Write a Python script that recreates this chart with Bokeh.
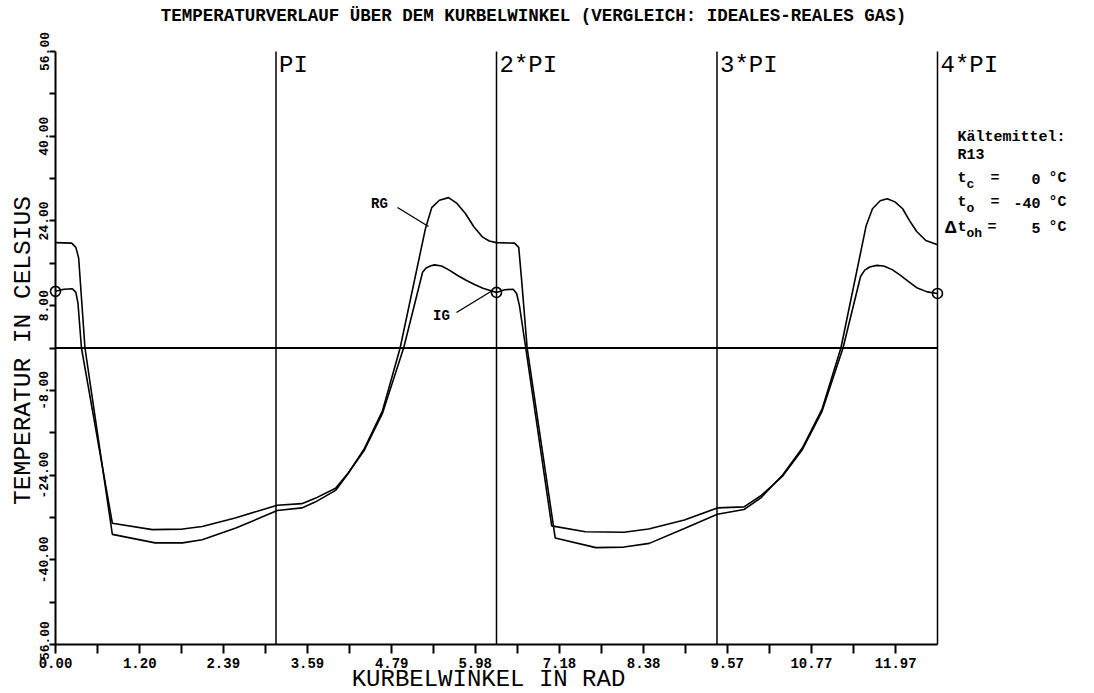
import numpy as np
from bokeh.plotting import figure
from bokeh.models import Label, FixedTicker, Range1d, PrintfTickFormatter, LinearAxis
from bokeh.embed import file_html
from bokeh.resources import INLINE

# ---------------- data ----------------
# crank angle in rad, temperature in deg C
rg_x = [0.00, 0.23, 0.29, 0.33, 0.42, 0.81, 1.42, 1.81, 2.09, 2.57, 3.16, 3.51, 3.70, 3.99,
        4.17, 4.40, 4.66, 4.91, 5.27, 5.36, 5.47, 5.60, 5.72, 5.84, 5.96, 6.08, 6.18, 6.28,
        6.54, 6.60, 6.64, 6.72, 7.12, 7.70, 8.10, 8.46, 8.96, 9.43, 9.81, 10.05, 10.36, 10.64,
        10.92, 11.19, 11.55, 11.64, 11.75, 11.85, 11.96, 12.07, 12.17, 12.27, 12.40, 12.566]
rg_y = [19.9, 19.8, 19.0, 17.0, 0.0, -35.2, -36.8, -36.8, -36.2, -34.0, -30.7, -30.2, -29.1, -26.9,
        -23.7, -19.0, -11.8, 0.0, 22.5, 26.5, 27.9, 28.4, 27.3, 25.4, 22.9, 21.0, 20.2, 19.9,
        19.8, 19.0, 13.0, 0.0, -35.9, -37.7, -37.6, -36.9, -34.1, -31.4, -30.5, -28.3, -24.0, -18.9,
        -11.6, 0.0, 23.1, 26.3, 27.8, 28.2, 27.6, 26.3, 24.0, 22.0, 20.3, 19.5]

ig_x = [0.00, 0.12, 0.24, 0.29, 0.32, 0.37, 0.81, 1.38, 1.81, 2.09, 2.56, 3.16, 3.51, 3.70,
        3.99, 4.17, 4.40, 4.66, 4.96, 5.23, 5.28, 5.34, 5.40, 5.50, 5.61, 5.73, 5.85, 5.97,
        6.09, 6.283, 6.40, 6.52, 6.57, 6.61, 6.70, 7.07, 7.55, 8.10, 8.45, 8.96, 9.43, 9.81,
        10.05, 10.36, 10.64, 10.92, 11.22, 11.47, 11.53, 11.60, 11.70, 11.80, 11.92, 12.03,
        12.15, 12.27, 12.42, 12.566]
ig_y = [10.7, 11.1, 11.2, 10.5, 8.5, 0.0, -33.1, -34.3, -34.2, -33.7, -32.1, -29.7, -29.4, -28.4,
        -26.5, -23.6, -19.3, -12.3, 0.0, 14.3, 15.1, 15.5, 15.7, 15.5, 14.7, 13.7, 12.8, 12.0,
        11.3, 10.5, 11.0, 11.1, 10.3, 8.0, 0.0, -33.6, -34.7, -34.8, -34.2, -32.5, -30.2, -30.0,
        -27.9, -24.2, -19.2, -12.0, 0.0, 13.5, 14.7, 15.3, 15.6, 15.5, 14.8, 13.8,
        12.6, 11.4, 10.6, 10.3]

x_ticks = [0.00, 1.20, 2.39, 3.59, 4.79, 5.98, 7.18, 8.38, 9.57, 10.77, 11.97]
x_minor = [0.60, 1.795, 2.99, 4.19, 5.385, 6.58, 7.775, 8.975, 10.17, 11.37]
y_ticks = [56, 40, 24, 8, -8, -24, -40, -56]
y_minor = [48, 32, 16, 0, -16, -32, -48]

pi_lines = [np.pi, 2 * np.pi, 3 * np.pi, 4 * np.pi]
pi_labels = ["PI", "2*PI", "3*PI", "4*PI"]

title_text = "TEMPERATURVERLAUF ÜBER DEM KURBELWINKEL (VERGLEICH: IDEALES-REALES GAS)"
xlabel_text = "KURBELWINKEL IN RAD"
ylabel_text = "TEMPERATUR IN CELSIUS"

# ---------------- layout (pixel -> data) ----------------
W, H = 1094, 693
FL, FT, FW, FH = 55, 51, 882, 593          # where the axes box sits on the page
X0, X1, Y0, Y1 = 0.0, 4 * np.pi, -56.0, 56.0


def dx(px):
    return X0 + (px - FL) * (X1 - X0) / FW


def dy(py):
    return Y1 - (py - FT) * (Y1 - Y0) / FH


p = figure(width=W, height=H, x_range=Range1d(dx(0), dx(W)), y_range=Range1d(dy(H), dy(0)),
           min_border=0, x_axis_location=None, y_axis_location=None,
           output_backend="svg", toolbar_location=None)
p.background_fill_color = "white"
p.border_fill_color = "white"
p.outline_line_color = None
p.grid.visible = False

MONO = "Liberation Mono"
BLACK = "black"

xaxis = LinearAxis(fixed_location=Y0, bounds=(X0, X1))
yaxis = LinearAxis(fixed_location=X0, bounds=(Y0, Y1))
p.add_layout(xaxis, "below")
p.add_layout(yaxis, "left")

for ax in (xaxis, yaxis):
    ax.axis_line_width = 2
    ax.axis_line_color = BLACK
    ax.major_tick_line_color = BLACK
    ax.minor_tick_line_color = BLACK
    ax.major_tick_line_width = 2
    ax.minor_tick_line_width = 2
    ax.major_tick_in = 0
    ax.minor_tick_in = 0
    ax.major_label_text_font = MONO
    ax.major_label_text_font_style = "bold"
    ax.major_label_text_color = BLACK
    ax.formatter = PrintfTickFormatter(format="%.2f")

xaxis.ticker = FixedTicker(ticks=x_ticks, minor_ticks=x_minor)
xaxis.major_tick_out = 9
xaxis.minor_tick_out = 9
xaxis.major_label_standoff = 4
xaxis.major_label_text_font_size = "14px"

yaxis.ticker = FixedTicker(ticks=y_ticks, minor_ticks=y_minor)
yaxis.major_tick_out = 6
yaxis.minor_tick_out = 6
yaxis.major_label_standoff = 1
yaxis.major_label_orientation = "vertical"
yaxis.major_label_text_font_size = "13px"

# reference lines: zero line and multiples of pi
p.segment(x0=[X0], y0=[0], x1=[X1], y1=[0], line_color=BLACK, line_width=2.2)
p.segment(x0=pi_lines, y0=[Y0] * 4, x1=pi_lines, y1=[Y1] * 4, line_color=BLACK, line_width=1.5)
for xv, t in zip(pi_lines, pi_labels):
    p.add_layout(Label(x=xv, y=Y1, x_offset=3, text=t, text_font=MONO, text_font_size="24px",
                       text_align="left", text_baseline="top", text_color=BLACK))

# curves
p.line(rg_x, rg_y, line_color=BLACK, line_width=1.6)
p.line(ig_x, ig_y, line_color=BLACK, line_width=1.6)

mk = [i for i, xv in enumerate(ig_x) if min(abs(xv - k * 2 * np.pi) for k in range(3)) < 1e-2]
p.scatter([ig_x[i] for i in mk], [ig_y[i] for i in mk], marker="circle", size=10,
          fill_color=None, line_color=BLACK, line_width=1.6)

# curve annotations with leader lines
p.line([dx(397), dx(428)], [dy(207), dy(226)], line_color=BLACK, line_width=1.4)
p.add_layout(Label(x=dx(379), y=dy(203), text="RG", text_font=MONO, text_font_style="bold",
                   text_font_size="14px", text_align="center", text_baseline="middle",
                   text_color=BLACK))
p.line([dx(456), dx(492)], [dy(312), dy(290)], line_color=BLACK, line_width=1.4)
p.add_layout(Label(x=dx(441), y=dy(315), text="IG", text_font=MONO, text_font_style="bold",
                   text_font_size="14px", text_align="center", text_baseline="middle",
                   text_color=BLACK))

# titles
p.add_layout(Label(x=dx(533), y=dy(15), text=title_text, text_font=MONO, text_font_style="bold",
                   text_font_size="17.5px", text_align="center", text_baseline="middle",
                   text_color=BLACK))
p.add_layout(Label(x=dx(488), y=dy(679), text=xlabel_text, text_font=MONO, text_font_size="24px",
                   text_align="center", text_baseline="middle", text_color=BLACK))
p.add_layout(Label(x=dx(23), y=dy(350), text=ylabel_text, text_font=MONO, text_font_size="24.5px",
                   text_align="center", text_baseline="middle", angle=np.pi / 2,
                   text_color=BLACK))


# refrigerant info block
def txt(px, py, s, size="15px", align="left"):
    p.add_layout(Label(x=dx(px), y=dy(py), text=s, text_font=MONO, text_font_style="bold",
                       text_font_size=size, text_align=align, text_baseline="alphabetic",
                       text_color=BLACK))


txt(957, 137, "Kältemittel:")
txt(957, 155, "R13")
rows = [(178, "c", "0"), (202, "o", "-40"), (227, "oh", "5")]
for by, sub, val in rows:
    txt(957, by, "t")
    txt(966, by + 6, sub, size="13px")
    txt(990 if sub != "oh" else 987, by, "=")
    txt(1040, by, val, align="right")
    txt(1048, by, "°C")
txt(956, 227, "Δ", size="19px", align="right")

open("out.html", "w").write(file_html(p, INLINE))
